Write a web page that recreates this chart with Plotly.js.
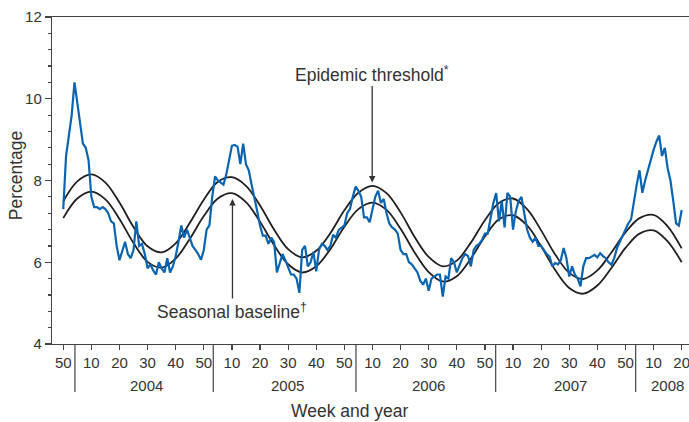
<!DOCTYPE html>
<html>
<head>
<meta charset="utf-8">
<script src="https://cdn.plot.ly/plotly-3.0.1.min.js"></script>
<style>
  html, body { margin: 0; padding: 0; background: #fff; }
  #chart { width: 689px; height: 422px; }
</style>
</head>
<body>
<div id="chart"></div>
<script>
// x is a week index: 0 = week 50 of 2003, tick every 10
const weekIdx = []
for (let i = 0; i <= 220; i++) weekIdx.push(i)

// weekly P&I percentage (blue)
const pctDeaths = [
  7.3, 8.6, 9.1, 9.6, 10.4, 9.9, 9.45, 8.9, 8.8, 8.5,
  7.6, 7.35, 7.35, 7.3, 7.35, 7.3, 7.2, 7.0, 6.95, 6.4,
  6.05, 6.3, 6.5, 6.2, 6.1, 6.3, 7.0, 6.4, 6.45, 6.2,
  5.85, 5.95, 5.8, 5.7, 6.0, 5.85, 5.75, 6.1, 5.75, 5.9,
  6.15, 6.5, 6.9, 6.6, 6.8, 6.6, 6.4, 6.3, 6.2, 6.06,
  6.3, 6.8, 6.9, 7.6, 8.1, 8.0, 7.95, 7.9, 8.15, 8.5,
  8.85, 8.87, 8.83, 8.4, 8.9, 8.4, 8.25, 7.9, 7.6, 7.25,
  6.9, 6.65, 6.65, 6.45, 6.6, 6.5, 5.75, 5.95, 6.2, 6.05,
  5.85, 5.7, 5.7, 5.6, 5.25, 6.3, 6.4, 5.9, 6.0, 6.25,
  5.78, 6.31, 6.45, 6.4, 6.3, 6.4, 6.67, 6.6, 6.79, 6.85,
  6.9, 7.2, 7.3, 7.6, 7.85, 7.75, 7.6, 7.1, 7.1, 6.98,
  7.3, 7.6, 7.75, 7.45, 7.55, 7.2, 6.95, 6.85, 6.8, 6.7,
  6.3, 6.2, 6.2, 6.0, 5.95, 5.85, 5.75, 5.55, 5.45, 5.6,
  5.3, 5.6, 5.65, 5.7, 5.7, 5.16, 5.65, 5.6, 6.1, 6.0,
  5.75, 5.95, 6.1, 6.2, 6.15, 5.9, 6.3, 6.4, 6.45, 6.55,
  6.7, 6.7, 7.1, 7.45, 7.69, 7.0, 7.5, 6.85, 7.7, 7.6,
  6.8, 7.25, 7.5, 7.6, 7.2, 6.8, 6.6, 6.5, 6.6, 6.4,
  6.4, 6.3, 6.2, 6.14, 5.9, 5.98, 5.95, 6.05, 6.35, 6.1,
  5.65, 5.9, 5.7, 5.6, 5.41, 5.9, 6.1, 6.1, 6.15, 6.18,
  6.12, 6.22, 6.15, 6.1, 6.0, 5.94, 6.1, 6.35, 6.5, 6.65,
  6.8, 6.95, 7.05, 7.5, 7.9, 8.25, 7.7, 8.0, 8.26, 8.5,
  8.75, 8.95, 9.1, 8.6, 8.8, 8.3, 8.0, 7.5, 6.95, 6.9,
  7.28
]

// baseline and threshold, read every 5 weeks
const curveIdx = [0, 5, 10, 15, 20, 25, 30, 35, 40, 45, 50, 55, 60, 65, 70, 75, 80, 85, 90, 95,
  100, 105, 110, 115, 120, 125, 130, 135, 140, 145, 150, 155, 160, 165, 170, 175, 180, 185,
  190, 195, 200, 205, 210, 215, 220]
const baseline = [7.08, 7.56, 7.73, 7.54, 7.06, 6.47, 6.01, 5.87, 6.09, 6.57, 7.13, 7.56, 7.69,
  7.47, 6.99, 6.42, 5.95, 5.75, 5.90, 6.32, 6.87, 7.30, 7.46, 7.28, 6.82, 6.24, 5.76, 5.53,
  5.66, 6.09, 6.63, 7.05, 7.15, 6.90, 6.39, 5.81, 5.37, 5.23, 5.43, 5.86, 6.35, 6.70, 6.78,
  6.51, 6.00]
const threshold = [7.49, 7.98, 8.15, 7.95, 7.46, 6.86, 6.39, 6.24, 6.46, 6.96, 7.53, 7.97, 8.08,
  7.87, 7.39, 6.80, 6.32, 6.12, 6.28, 6.71, 7.27, 7.70, 7.87, 7.69, 7.22, 6.62, 6.13, 5.90,
  6.04, 6.48, 7.03, 7.45, 7.56, 7.30, 6.78, 6.19, 5.74, 5.59, 5.80, 6.24, 6.73, 7.08, 7.16,
  6.88, 6.34]

const tickVals = [0, 10, 20, 30, 40, 50, 60, 70, 80, 90, 100, 110, 120, 130, 140, 150, 160,
  170, 180, 190, 200, 210, 220]
const tickText = ['50', '10', '20', '30', '40', '50', '10', '20', '30', '40', '50', '10', '20',
  '30', '40', '50', '10', '20', '30', '40', '50', '10', '20']

const years = ['2004', '2005', '2006', '2007', '2008']
const yearPos = [29.5, 79.8, 130, 180.5, 215]
const yearBreaks = [4.16, 53.36, 104.13, 153.83, 203.63]

const font = 'Liberation Sans, Arial, sans-serif'
const ink = '#333'
const axisCol = '#444'

let traces = [
  {x: curveIdx, y: threshold, type: 'scatter', mode: 'lines',
    line: {color: '#231f20', width: 1.8, shape: 'spline'}, hoverinfo: 'skip'},
  {x: curveIdx, y: baseline, type: 'scatter', mode: 'lines',
    line: {color: '#231f20', width: 1.8, shape: 'spline'}, hoverinfo: 'skip'},
  {x: weekIdx, y: pctDeaths, type: 'scatter', mode: 'lines',
    line: {color: '#0a64b0', width: 2.2}},
]

let shapes = yearBreaks.map(b => ({
  type: 'line', xref: 'x', yref: 'paper',
  x0: b, x1: b, y0: 0, y1: -0.147,
  line: {color: axisCol, width: 1.2}
}))

let annotations = years.map((yr, i) => ({
  text: yr, x: yearPos[i], xref: 'x', y: -0.128, yref: 'paper',
  showarrow: false, yanchor: 'middle', font: {family: font, size: 15, color: ink}
}))

annotations.push(
  {text: 'Week and year', x: 0.4686, xref: 'paper', y: -0.205, yref: 'paper',
    showarrow: false, yanchor: 'middle', font: {family: font, size: 17.5, color: ink}},
  {text: 'Percentage', x: -0.056, xref: 'paper', y: 0.517, yref: 'paper', textangle: -90,
    showarrow: false, xanchor: 'center', yanchor: 'middle', font: {family: font, size: 17.5, color: ink}},
  {text: 'Epidemic threshold<sup>*</sup>', x: 109.9, y: 7.95, ax: 0, ay: -109,
    showarrow: true, arrowhead: 2, arrowsize: 1, arrowwidth: 1.3, arrowcolor: ink,
    font: {family: font, size: 17.5, color: ink}},
  {text: 'Seasonal baseline<sup>†</sup>', x: 60.2, y: 7.55, ax: 0, ay: 112,
    showarrow: true, arrowhead: 2, arrowsize: 1, arrowwidth: 1.3, arrowcolor: ink,
    font: {family: font, size: 17.5, color: ink}}
)

let layout = {
  width: 689,
  height: 422,
  margin: {l: 52, r: 0, t: 17, b: 78},
  paper_bgcolor: '#fff',
  plot_bgcolor: '#fff',
  showlegend: false,
  font: {family: font, color: ink},
  xaxis: {
    range: [-4, 222.6],
    tickvals: tickVals,
    ticktext: tickText,
    ticklabeloverflow: 'allow',
    ticks: 'outside', ticklen: 5, tickwidth: 1.2, tickcolor: axisCol,
    showline: true, mirror: true, linecolor: axisCol, linewidth: 1.2,
    showgrid: false, zeroline: false,
    tickfont: {family: font, size: 15, color: ink},
  },
  yaxis: {
    range: [4, 12],
    dtick: 2,
    ticks: 'outside', ticklen: 6, tickwidth: 1.2, tickcolor: axisCol,
    minor: {dtick: 0.4, ticks: 'outside', ticklen: 3, tickwidth: 1.2, tickcolor: axisCol},
    showline: true, linecolor: axisCol, linewidth: 1.2,
    showgrid: false, zeroline: false,
    tickfont: {family: font, size: 15, color: ink},
  },
  shapes,
  annotations,
}

Plotly.newPlot('chart', traces, layout, {displayModeBar: false, staticPlot: true})
</script>
</body>
</html>
